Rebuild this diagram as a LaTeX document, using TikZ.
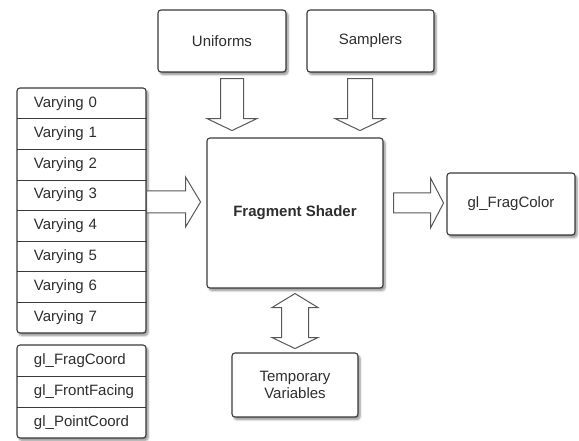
\documentclass[tikz,border=0pt]{standalone}
\usepackage{fontspec}
\setmainfont{Liberation Sans}
\usepackage{xcolor}
\usepackage{tikz}
\usetikzlibrary{calc}
\usetikzlibrary{shadows.blur}

\definecolor{linegray}{HTML}{3A3A3A}
\definecolor{textgray}{HTML}{2E2E2E}

\tikzset{
  box/.style={draw=linegray, line width=1.1pt, rounded corners=3pt, fill=white, text=textgray,
    blur shadow={shadow xshift=2pt, shadow yshift=-2.5pt, shadow blur steps=6, shadow opacity=45}},
  cell/.style={minimum width=129pt, minimum height=30.6pt, inner xsep=17pt, inner ysep=0pt,
    text width=95pt, align=left, text=textgray},
  sep/.style={draw=linegray, line width=0.9pt},
  blk/.style={draw=linegray!85, line width=1pt, fill=white, line join=miter},
}

\begin{document}
\begin{tikzpicture}[x=1pt, y=-1pt, font=\fontsize{15}{17.5}\selectfont]
    \useasboundingbox (0,0) rectangle (579,441);
    %KOTAK
    \node[box, minimum width=176pt, minimum height=150pt, font=\fontsize{15}{17}\selectfont\bfseries] (shader) at (295,213) {Fragment Shader};
    \node[box, minimum width=128pt, minimum height=62pt] (uni) at (222,41) {Uniforms};
    \node[box, minimum width=127pt, minimum height=62pt] (samp) at (370.5,41) {Samplers};
    \node[box, minimum width=128pt, minimum height=62pt] (fragcol) at (511,204) {gl\_FragColor};
    \node[box, minimum width=126pt, minimum height=64pt, align=center] (temp) at (295,385) {Temporary\\Variables};
    %VARYING
    \node[box, minimum width=129pt, minimum height=245pt] (varstack) at (81.5,210.5) {};
    \foreach \i in {0,...,7}
        \node[cell] (var\i) at (81.5,{103.3+30.6*\i}) {Varying \i};
    \foreach \i in {0,...,6}
        \draw[sep] (var\i.south west) -- ([xshift=1pt]var\i.south east);
    %BUILT-IN
    \node[box, minimum width=129pt, minimum height=93pt] (glstack) at (81.5,391.5) {};
    \foreach \t [count=\i from 0] in {gl\_FragCoord, gl\_FrontFacing, gl\_PointCoord}
        \node[cell, minimum height=31pt] (gl\i) at (81.5,{360.5+31*\i}) {\t};
    \foreach \i in {0,1}
        \draw[sep] (gl\i.south west) -- (gl\i.south east);
    %PANAH
    \coordinate (ua) at ([xshift=10pt,yshift=-6pt]uni.south);
    \coordinate (sa) at ([xshift=-10.5pt,yshift=-6pt]samp.south);
    \coordinate (va) at ([yshift=8.5pt]varstack.east);
    \coordinate (fa) at ([xshift=10pt,yshift=10pt]shader.east);
    \coordinate (ta) at ([yshift=-5pt]shader.south);
    \draw[blk] (ua) ++(-11.5,0) -- ++(0,40) -- ++(-13.5,0) -- ++(25,12) -- ++(25,-12) -- ++(-13.5,0) -- ++(0,-40) -- cycle;
    \draw[blk] (sa) ++(-12.5,0) -- ++(0,40) -- ++(-12.5,0) -- ++(25,12) -- ++(25,-12) -- ++(-12.5,0) -- ++(0,-40) -- cycle;
    \draw[blk] (va) ++(0,-11) -- ++(39,0) -- ++(0,-14) -- ++(15,25) -- ++(-15,25) -- ++(0,-14) -- ++(-39,0) -- cycle;
    \draw[blk] (fa) ++(0,-10) -- ++(37,0) -- ++(0,-15) -- ++(13,25) -- ++(-13,25) -- ++(0,-15) -- ++(-37,0) -- cycle;
    \draw[blk] (ta) ++(0,0) -- ++(23,14) -- ++(-9.5,0) -- ++(0,30) -- ++(9.5,0) -- ++(-23,11) -- ++(-23,-11) -- ++(9.5,0) -- ++(0,-30) -- ++(-9.5,0) -- cycle;
\end{tikzpicture}
\end{document}
